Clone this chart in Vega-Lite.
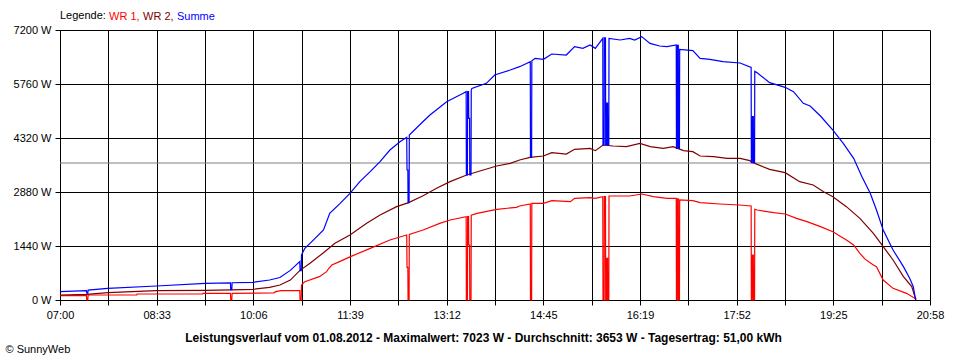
{
  "$schema": "https://vega.github.io/schema/vega-lite/v6.json",
  "width": 870,
  "height": 270,
  "autosize": {"type": "none"},
  "padding": {"left": 60, "top": 30, "right": 30, "bottom": 60},
  "background": "white",
  "config": {"view": {"stroke": null}, "font": "Liberation Sans"},
  "data": {
    "values": [
      {"t":420,"serie":"WR 1","watt":116},{"t":445.5,"serie":"WR 1","watt":116},{"t":445.8,"serie":"WR 1","watt":0},{"t":446.8,"serie":"WR 1","watt":0},{"t":447.1,"serie":"WR 1","watt":133},{"t":494,"serie":"WR 1","watt":133},{"t":494.3,"serie":"WR 1","watt":160},{"t":557.5,"serie":"WR 1","watt":160},{"t":557.8,"serie":"WR 1","watt":178},{"t":584.3,"serie":"WR 1","watt":178},{"t":584.6,"serie":"WR 1","watt":0},{"t":585.6,"serie":"WR 1","watt":0},{"t":585.9,"serie":"WR 1","watt":178},{"t":626,"serie":"WR 1","watt":190},{"t":628,"serie":"WR 1","watt":222},{"t":633,"serie":"WR 1","watt":248},{"t":651.1,"serie":"WR 1","watt":248},{"t":651.4,"serie":"WR 1","watt":0},{"t":652.5,"serie":"WR 1","watt":0},{"t":652.8,"serie":"WR 1","watt":400},{"t":656,"serie":"WR 1","watt":489},{"t":670,"serie":"WR 1","watt":622},{"t":677,"serie":"WR 1","watt":756},{"t":679,"serie":"WR 1","watt":840},{"t":682,"serie":"WR 1","watt":933},{"t":690,"serie":"WR 1","watt":1030},{"t":700,"serie":"WR 1","watt":1156},{"t":719,"serie":"WR 1","watt":1378},{"t":738,"serie":"WR 1","watt":1600},{"t":754.2,"serie":"WR 1","watt":1733},{"t":754.5,"serie":"WR 1","watt":871},{"t":755.3,"serie":"WR 1","watt":871},{"t":755.5,"serie":"WR 1","watt":0},{"t":756.5,"serie":"WR 1","watt":0},{"t":756.7,"serie":"WR 1","watt":1750},{"t":770,"serie":"WR 1","watt":1867},{"t":786,"serie":"WR 1","watt":2044},{"t":796,"serie":"WR 1","watt":2133},{"t":811.5,"serie":"WR 1","watt":2222},{"t":811.7,"serie":"WR 1","watt":0},{"t":812.7,"serie":"WR 1","watt":0},{"t":812.9,"serie":"WR 1","watt":2222},{"t":813.8,"serie":"WR 1","watt":2222},{"t":814,"serie":"WR 1","watt":1467},{"t":814.8,"serie":"WR 1","watt":1467},{"t":815,"serie":"WR 1","watt":0},{"t":816.2,"serie":"WR 1","watt":0},{"t":816.4,"serie":"WR 1","watt":2260},{"t":822,"serie":"WR 1","watt":2311},{"t":841,"serie":"WR 1","watt":2418},{"t":860,"serie":"WR 1","watt":2471},{"t":863,"serie":"WR 1","watt":2507},{"t":873.3,"serie":"WR 1","watt":2560},{"t":873.5,"serie":"WR 1","watt":0},{"t":874.6,"serie":"WR 1","watt":0},{"t":874.8,"serie":"WR 1","watt":2578},{"t":886,"serie":"WR 1","watt":2578},{"t":894,"serie":"WR 1","watt":2649},{"t":912,"serie":"WR 1","watt":2622},{"t":916,"serie":"WR 1","watt":2711},{"t":931,"serie":"WR 1","watt":2729},{"t":936,"serie":"WR 1","watt":2711},{"t":943.2,"serie":"WR 1","watt":2756},{"t":943.4,"serie":"WR 1","watt":0},{"t":944.5,"serie":"WR 1","watt":0},{"t":944.7,"serie":"WR 1","watt":2756},{"t":945.8,"serie":"WR 1","watt":2756},{"t":946,"serie":"WR 1","watt":0},{"t":946.9,"serie":"WR 1","watt":0},{"t":947.1,"serie":"WR 1","watt":1111},{"t":947.8,"serie":"WR 1","watt":1111},{"t":948,"serie":"WR 1","watt":0},{"t":949,"serie":"WR 1","watt":0},{"t":949.2,"serie":"WR 1","watt":2773},{"t":969,"serie":"WR 1","watt":2773},{"t":981,"serie":"WR 1","watt":2827},{"t":992,"serie":"WR 1","watt":2756},{"t":1005,"serie":"WR 1","watt":2711},{"t":1014,"serie":"WR 1","watt":2711},{"t":1014.2,"serie":"WR 1","watt":0},{"t":1015,"serie":"WR 1","watt":0},{"t":1015.2,"serie":"WR 1","watt":2700},{"t":1016,"serie":"WR 1","watt":2700},{"t":1016.2,"serie":"WR 1","watt":0},{"t":1017.1,"serie":"WR 1","watt":0},{"t":1017.3,"serie":"WR 1","watt":2667},{"t":1030,"serie":"WR 1","watt":2649},{"t":1037,"serie":"WR 1","watt":2596},{"t":1056,"serie":"WR 1","watt":2560},{"t":1075,"serie":"WR 1","watt":2533},{"t":1086.2,"serie":"WR 1","watt":2507},{"t":1086.4,"serie":"WR 1","watt":0},{"t":1087.3,"serie":"WR 1","watt":0},{"t":1087.5,"serie":"WR 1","watt":1200},{"t":1088.3,"serie":"WR 1","watt":1200},{"t":1088.5,"serie":"WR 1","watt":0},{"t":1089.5,"serie":"WR 1","watt":0},{"t":1089.7,"serie":"WR 1","watt":2420},{"t":1092,"serie":"WR 1","watt":2400},{"t":1108,"serie":"WR 1","watt":2329},{"t":1119,"serie":"WR 1","watt":2293},{"t":1130,"serie":"WR 1","watt":2178},{"t":1140,"serie":"WR 1","watt":2089},{"t":1153,"serie":"WR 1","watt":1956},{"t":1165,"serie":"WR 1","watt":1822},{"t":1178,"serie":"WR 1","watt":1600},{"t":1185,"serie":"WR 1","watt":1467},{"t":1191,"serie":"WR 1","watt":1244},{"t":1196,"serie":"WR 1","watt":1090},{"t":1204,"serie":"WR 1","watt":933},{"t":1207,"serie":"WR 1","watt":889},{"t":1213.5,"serie":"WR 1","watt":533},{"t":1223,"serie":"WR 1","watt":311},{"t":1236,"serie":"WR 1","watt":178},{"t":1244,"serie":"WR 1","watt":44},{"t":1245,"serie":"WR 1","watt":0},

      {"t":420,"serie":"WR 2","watt":133},{"t":446,"serie":"WR 2","watt":150},{"t":466,"serie":"WR 2","watt":196},{"t":513,"serie":"WR 2","watt":249},{"t":560,"serie":"WR 2","watt":258},{"t":585,"serie":"WR 2","watt":270},{"t":606,"serie":"WR 2","watt":284},{"t":622,"serie":"WR 2","watt":338},{"t":632,"serie":"WR 2","watt":400},{"t":642,"serie":"WR 2","watt":530},{"t":651.3,"serie":"WR 2","watt":790},{"t":661,"serie":"WR 2","watt":978},{"t":674,"serie":"WR 2","watt":1262},{"t":685,"serie":"WR 2","watt":1511},{"t":699.5,"serie":"WR 2","watt":1733},{"t":715.6,"serie":"WR 2","watt":2044},{"t":728.5,"serie":"WR 2","watt":2267},{"t":744.5,"serie":"WR 2","watt":2489},{"t":756,"serie":"WR 2","watt":2596},{"t":770,"serie":"WR 2","watt":2782},{"t":783,"serie":"WR 2","watt":2978},{"t":796,"serie":"WR 2","watt":3156},{"t":812,"serie":"WR 2","watt":3333},{"t":828,"serie":"WR 2","watt":3467},{"t":841,"serie":"WR 2","watt":3573},{"t":854,"serie":"WR 2","watt":3644},{"t":863,"serie":"WR 2","watt":3733},{"t":873,"serie":"WR 2","watt":3804},{"t":886,"serie":"WR 2","watt":3840},{"t":894,"serie":"WR 2","watt":3929},{"t":908,"serie":"WR 2","watt":3893},{"t":916,"serie":"WR 2","watt":4018},{"t":931,"serie":"WR 2","watt":4044},{"t":936,"serie":"WR 2","watt":3982},{"t":943.5,"serie":"WR 2","watt":4133},{"t":953,"serie":"WR 2","watt":4107},{"t":966,"serie":"WR 2","watt":4089},{"t":979,"serie":"WR 2","watt":4178},{"t":989,"serie":"WR 2","watt":4089},{"t":1001.5,"serie":"WR 2","watt":4044},{"t":1011,"serie":"WR 2","watt":4089},{"t":1021,"serie":"WR 2","watt":3982},{"t":1030,"serie":"WR 2","watt":3956},{"t":1037,"serie":"WR 2","watt":3840},{"t":1050,"serie":"WR 2","watt":3822},{"t":1063,"serie":"WR 2","watt":3778},{"t":1075.5,"serie":"WR 2","watt":3778},{"t":1085,"serie":"WR 2","watt":3716},{"t":1088,"serie":"WR 2","watt":3662},{"t":1104,"serie":"WR 2","watt":3484},{"t":1119,"serie":"WR 2","watt":3396},{"t":1133,"serie":"WR 2","watt":3156},{"t":1146,"serie":"WR 2","watt":3067},{"t":1156,"serie":"WR 2","watt":2889},{"t":1165,"serie":"WR 2","watt":2756},{"t":1178,"serie":"WR 2","watt":2489},{"t":1191,"serie":"WR 2","watt":2178},{"t":1204,"serie":"WR 2","watt":1778},{"t":1213.5,"serie":"WR 2","watt":1422},{"t":1223,"serie":"WR 2","watt":1067},{"t":1233,"serie":"WR 2","watt":622},{"t":1241,"serie":"WR 2","watt":356},{"t":1244,"serie":"WR 2","watt":89},{"t":1245,"serie":"WR 2","watt":0},

      {"t":420,"serie":"Summe","watt":222},{"t":445.5,"serie":"Summe","watt":248},{"t":445.8,"serie":"Summe","watt":180},{"t":446.8,"serie":"Summe","watt":180},{"t":447.1,"serie":"Summe","watt":262},{"t":466,"serie":"Summe","watt":312},{"t":513,"serie":"Summe","watt":373},{"t":560,"serie":"Summe","watt":444},{"t":584.3,"serie":"Summe","watt":455},{"t":584.6,"serie":"Summe","watt":275},{"t":585.6,"serie":"Summe","watt":275},{"t":585.9,"serie":"Summe","watt":460},{"t":606,"serie":"Summe","watt":472},{"t":622,"serie":"Summe","watt":533},{"t":632,"serie":"Summe","watt":600},{"t":642,"serie":"Summe","watt":790},{"t":651.1,"serie":"Summe","watt":1022},{"t":651.4,"serie":"Summe","watt":782},{"t":652.5,"serie":"Summe","watt":782},{"t":652.8,"serie":"Summe","watt":1200},{"t":656,"serie":"Summe","watt":1378},{"t":661,"serie":"Summe","watt":1511},{"t":674,"serie":"Summe","watt":1867},{"t":680,"serie":"Summe","watt":2311},{"t":690,"serie":"Summe","watt":2578},{"t":699.5,"serie":"Summe","watt":2844},{"t":709,"serie":"Summe","watt":3156},{"t":719,"serie":"Summe","watt":3422},{"t":728.5,"serie":"Summe","watt":3689},{"t":738,"serie":"Summe","watt":4000},{"t":747.7,"serie":"Summe","watt":4222},{"t":754.2,"serie":"Summe","watt":4338},{"t":754.5,"serie":"Summe","watt":3467},{"t":755.3,"serie":"Summe","watt":3467},{"t":755.5,"serie":"Summe","watt":2596},{"t":756.5,"serie":"Summe","watt":2596},{"t":756.7,"serie":"Summe","watt":4400},{"t":770,"serie":"Summe","watt":4760},{"t":776.6,"serie":"Summe","watt":4933},{"t":792.7,"serie":"Summe","watt":5289},{"t":808.7,"serie":"Summe","watt":5511},{"t":811.5,"serie":"Summe","watt":5556},{"t":811.7,"serie":"Summe","watt":3333},{"t":812.7,"serie":"Summe","watt":3333},{"t":812.9,"serie":"Summe","watt":5556},{"t":813.8,"serie":"Summe","watt":5556},{"t":814,"serie":"Summe","watt":4844},{"t":814.8,"serie":"Summe","watt":4844},{"t":815,"serie":"Summe","watt":3333},{"t":816.2,"serie":"Summe","watt":3333},{"t":816.4,"serie":"Summe","watt":5600},{"t":817,"serie":"Summe","watt":5644},{"t":831,"serie":"Summe","watt":5778},{"t":839,"serie":"Summe","watt":6000},{"t":854,"serie":"Summe","watt":6133},{"t":863,"serie":"Summe","watt":6222},{"t":873.3,"serie":"Summe","watt":6356},{"t":873.5,"serie":"Summe","watt":3804},{"t":874.6,"serie":"Summe","watt":3804},{"t":874.8,"serie":"Summe","watt":6380},{"t":878,"serie":"Summe","watt":6444},{"t":886,"serie":"Summe","watt":6418},{"t":894,"serie":"Summe","watt":6560},{"t":908,"serie":"Summe","watt":6533},{"t":916,"serie":"Summe","watt":6756},{"t":924,"serie":"Summe","watt":6711},{"t":931,"serie":"Summe","watt":6800},{"t":936,"serie":"Summe","watt":6711},{"t":943.2,"serie":"Summe","watt":6978},{"t":943.4,"serie":"Summe","watt":4133},{"t":944.5,"serie":"Summe","watt":4133},{"t":944.7,"serie":"Summe","watt":6990},{"t":945.8,"serie":"Summe","watt":6990},{"t":946,"serie":"Summe","watt":4133},{"t":946.9,"serie":"Summe","watt":4133},{"t":947.1,"serie":"Summe","watt":5250},{"t":947.8,"serie":"Summe","watt":5250},{"t":948,"serie":"Summe","watt":4133},{"t":949,"serie":"Summe","watt":4133},{"t":949.2,"serie":"Summe","watt":6978},{"t":960,"serie":"Summe","watt":6933},{"t":969,"serie":"Summe","watt":6978},{"t":974,"serie":"Summe","watt":6933},{"t":980.7,"serie":"Summe","watt":7023},{"t":988.7,"serie":"Summe","watt":6844},{"t":998,"serie":"Summe","watt":6773},{"t":1005,"serie":"Summe","watt":6756},{"t":1014,"serie":"Summe","watt":6800},{"t":1014.2,"serie":"Summe","watt":4044},{"t":1015,"serie":"Summe","watt":4044},{"t":1015.2,"serie":"Summe","watt":6790},{"t":1016,"serie":"Summe","watt":6790},{"t":1016.2,"serie":"Summe","watt":4044},{"t":1017.1,"serie":"Summe","watt":4044},{"t":1017.3,"serie":"Summe","watt":6684},{"t":1030,"serie":"Summe","watt":6649},{"t":1037,"serie":"Summe","watt":6444},{"t":1046.5,"serie":"Summe","watt":6418},{"t":1059,"serie":"Summe","watt":6356},{"t":1075.5,"serie":"Summe","watt":6320},{"t":1086.2,"serie":"Summe","watt":6204},{"t":1086.4,"serie":"Summe","watt":3662},{"t":1087.3,"serie":"Summe","watt":3662},{"t":1087.5,"serie":"Summe","watt":4889},{"t":1088.3,"serie":"Summe","watt":4889},{"t":1088.5,"serie":"Summe","watt":3662},{"t":1089.5,"serie":"Summe","watt":3662},{"t":1089.7,"serie":"Summe","watt":6100},{"t":1092,"serie":"Summe","watt":6062},{"t":1104,"serie":"Summe","watt":5796},{"t":1119,"serie":"Summe","watt":5671},{"t":1127,"serie":"Summe","watt":5556},{"t":1136.5,"serie":"Summe","watt":5244},{"t":1143,"serie":"Summe","watt":5173},{"t":1153,"serie":"Summe","watt":4907},{"t":1165,"serie":"Summe","watt":4533},{"t":1175,"serie":"Summe","watt":4178},{"t":1185,"serie":"Summe","watt":3778},{"t":1193,"serie":"Summe","watt":3289},{"t":1201,"serie":"Summe","watt":2844},{"t":1207,"serie":"Summe","watt":2400},{"t":1213.5,"serie":"Summe","watt":1867},{"t":1223,"serie":"Summe","watt":1333},{"t":1233,"serie":"Summe","watt":889},{"t":1239,"serie":"Summe","watt":578},{"t":1242.5,"serie":"Summe","watt":356},{"t":1244.2,"serie":"Summe","watt":89},{"t":1245,"serie":"Summe","watt":20}
    ]
  },
  "layer": [
    {
      "data": {"values": [{"label": "Durchschnitt"}]},
      "mark": {"type": "rule", "color": "#808080", "strokeWidth": 1},
      "encoding": {"y": {"datum": 3653, "type": "quantitative"}}
    },
    {
      "mark": {"type": "line", "strokeWidth": 1.2, "interpolate": "linear"},
      "encoding": {
        "x": {
          "field": "t", "type": "quantitative",
          "scale": {"domain": [420, 1258.6], "nice": false, "zero": false},
          "axis": {
            "values": [420,466.589,513.178,559.767,606.356,652.944,699.533,746.122,792.711,839.3,885.889,932.478,979.067,1025.656,1072.244,1118.833,1165.422,1212.011,1258.6],
            "labelExpr": "['07:00','','08:33','','10:06','','11:39','','13:12','','14:45','','16:19','','17:52','','19:25','','20:58'][round((datum.value-420)/46.5889)]",
            "grid": true, "gridColor": "#000000", "gridOpacity": 1, "gridWidth": 1,
            "domainColor": "#000000", "tickColor": "#000000", "tickSize": 5,
            "labelFontSize": 11, "labelColor": "#000000", "labelPadding": 4,
            "labelFlush": false, "labelOverlap": false,
            "title": "Leistungsverlauf vom 01.08.2012 - Maximalwert: 7023 W - Durchschnitt: 3653 W - Tagesertrag: 51,00 kWh",
            "titleFontSize": 12, "titleFontWeight": "bold", "titleColor": "#000000",
            "titleX": 423, "titleY": 41, "titleAlign": "center", "titleBaseline": "alphabetic"
          }
        },
        "y": {
          "field": "watt", "type": "quantitative",
          "scale": {"domain": [0, 7200], "nice": false},
          "axis": {
            "values": [0,1440,2880,4320,5760,7200],
            "labelExpr": "datum.value + ' W'",
            "grid": true, "gridColor": "#000000", "gridOpacity": 1, "gridWidth": 1,
            "domainColor": "#000000", "tickColor": "#000000", "tickSize": 5,
            "labelFontSize": 11, "labelColor": "#000000", "labelPadding": 4,
            "labelFlush": false, "labelOverlap": false,
            "title": "© SunnyWeb", "titleAngle": 0, "titleX": -55, "titleY": 319,
            "titleAlign": "left", "titleBaseline": "middle",
            "titleFontSize": 11, "titleFontWeight": "normal", "titleColor": "#000000"
          }
        },
        "color": {
          "field": "serie", "type": "nominal",
          "scale": {"domain": ["WR 1", "WR 2", "Summe"], "range": ["#ff0000", "#800000", "#0000ff"]},
          "legend": {
            "orient": "none", "legendX": 0, "legendY": -19, "direction": "horizontal",
            "gridAlign": "each", "symbolType": "circle",
            "title": "Legende:", "titleOrient": "left", "titleFontSize": 11, "titleFontWeight": "normal",
            "titleColor": "#000000", "titlePadding": 5,
            "labelFontSize": 11,
            "labelExpr": "datum.label == 'Summe' ? datum.label : datum.label + ','",
            "symbolSize": 0, "symbolStrokeWidth": 0, "symbolOpacity": 0, "labelOffset": -13,
            "columnPadding": 3, "padding": 0,
            "encode": {"labels": {"update": {"fill": {"signal": "scale('color', datum.value)"}}}}
          }
        }
      }
    }
  ]
}
